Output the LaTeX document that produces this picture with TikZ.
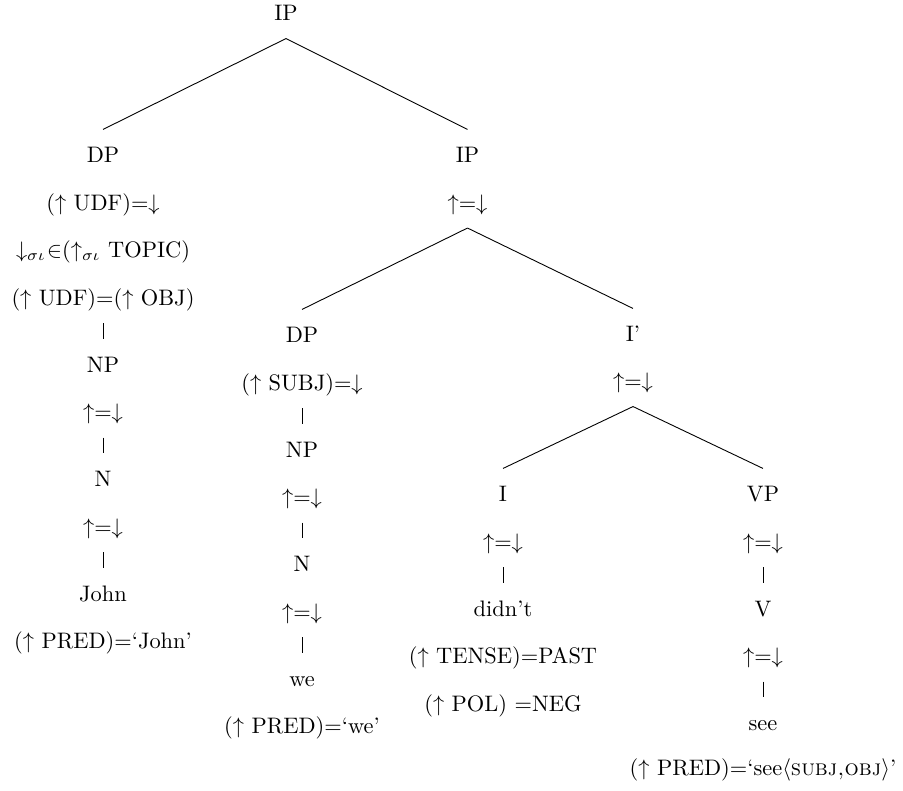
\documentclass[tikz,border=0pt]{standalone}
\newcommand{\treelink}[2]{\draw ([yshift=-5.8pt]#1.south) -- ([yshift=7.6pt]#2.north);}
\newcommand{\up}{$\uparrow$}
\newcommand{\dn}{$\downarrow$}
\begin{document}
\begin{tikzpicture}[x=0.4464pt,y=-0.4464pt,
  every node/.style={inner sep=0pt,text height=7pt,text depth=2pt,anchor=center}]
\useasboundingbox (0,0) rectangle (903,790);
% top
\node (ip0) at (286,15) {IP};
% left column
\node (dpA)  at (103,157)   {DP};
\node (dpA1) at (103,204.5) {(\up\ UDF)=\dn};
\node (dpA2) at (103,252)   {$\downarrow_{\sigma\iota}\mkern-4mu{\in}$($\uparrow_{\sigma\iota}$ TOPIC)};
\node (dpA3) at (103,299.5) {(\up\ UDF)=(\up\ OBJ)};
\node (npA)  at (103,366.5) {NP};
\node (npA1) at (103,414)   {\up=\dn};
\node (nA)   at (103,481)   {N};
\node (nA1)  at (103,528.5) {\up=\dn};
\node (john) at (103,595.5) {John};
\node (johnA) at (103,643)  {(\up\ PRED)=`John'};
% right IP
\node (ip1)  at (467.5,157)   {IP};
\node (ip1a) at (467.5,204.5) {\up=\dn};
% middle column
\node (dpB)  at (302,337)   {DP};
\node (dpB1) at (302,384.5) {(\up\ SUBJ)=\dn};
\node (npB)  at (302,451.5) {NP};
\node (npB1) at (302,499)   {\up=\dn};
\node (nB)   at (302,566)   {N};
\node (nB1)  at (302,613.5) {\up=\dn};
\node (we)   at (302,680.5) {we};
\node (weA)  at (302,728)   {(\up\ PRED)=`we'};
% I'
\node (ibar)  at (633,336) {I'};
\node (ibar1) at (633,383) {\up=\dn};
% I column
\node (i)      at (503,496)   {I};
\node (i1)     at (503,543.5) {\up=\dn};
\node (didnt)  at (503,610.5) {didn't};
\node (didnt1) at (503,658)   {(\up\ TENSE)=PAST};
\node (didnt2) at (503,705.5) {(\up\ POL) =NEG};
% VP column
\node (vp)   at (763,496)   {VP};
\node (vp1)  at (763,543.5) {\up=\dn};
\node (v)    at (763,610.5) {V};
\node (v1)   at (763,658)   {\up=\dn};
\node (see)  at (763,725)   {see};
\node (seeA) at (763,770)   {(\up\ PRED)=`see$\langle$\textsc{subj,obj}$\rangle$'};
% connectors
\treelink{ip0}{dpA}
\treelink{ip0}{ip1}
\treelink{dpA3}{npA}
\treelink{npA1}{nA}
\treelink{nA1}{john}
\treelink{ip1a}{dpB}
\treelink{ip1a}{ibar}
\treelink{dpB1}{npB}
\treelink{npB1}{nB}
\treelink{nB1}{we}
\treelink{ibar1}{i}
\treelink{ibar1}{vp}
\treelink{i1}{didnt}
\treelink{vp1}{v}
\treelink{v1}{see}
\end{tikzpicture}
\end{document}
